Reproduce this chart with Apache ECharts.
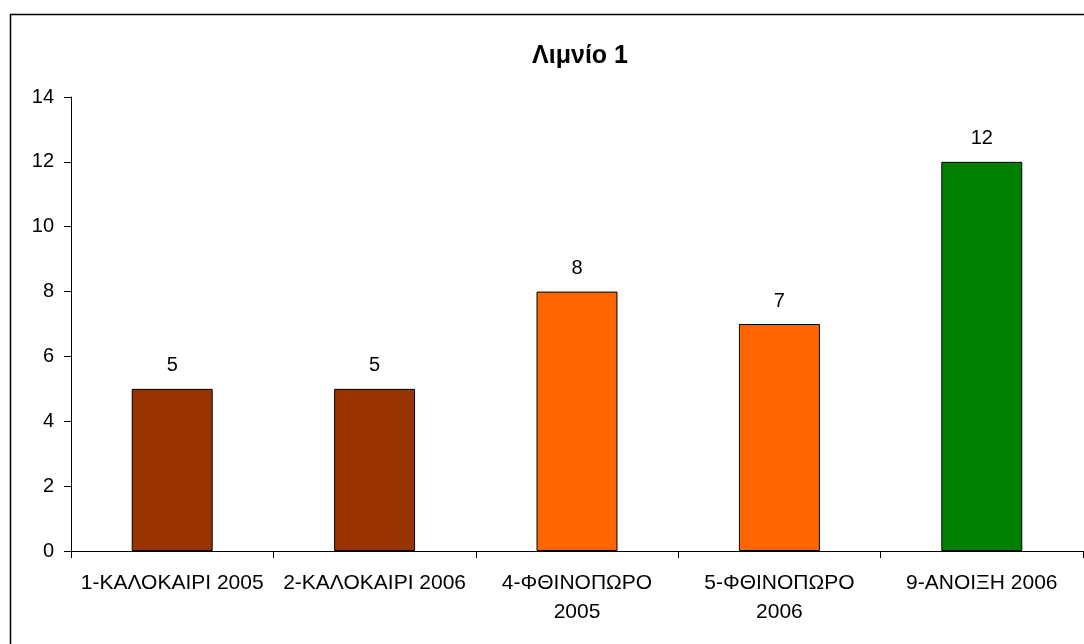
<!DOCTYPE html>
<html>
<head>
<meta charset="utf-8">
<script src="https://cdn.jsdelivr.net/npm/echarts@6/dist/echarts.min.js"></script>
<style>
html,body{margin:0;padding:0;background:#fff;}
#chart{width:1084px;height:644px;}
</style>
</head>
<body>
<div id="chart"></div>
<script>
var titleText = 'Λιμνίο 1';
var categories = ['1-ΚΑΛΟΚΑΙΡΙ 2005', '2-ΚΑΛΟΚΑΙΡΙ 2006', '4-ΦΘΙΝΟΠΩΡΟ\n2005', '5-ΦΘΙΝΟΠΩΡΟ\n2006', '9-ΑΝΟΙΞΗ 2006'];
var values = [5, 5, 8, 7, 12];
var barColors = ['#993300', '#993300', '#FF6600', '#FF6600', '#008000'];
var yTicks = [0, 2, 4, 6, 8, 10, 12, 14];

var chart = echarts.init(document.getElementById('chart'));
var font = '"Liberation Sans", Arial, sans-serif';
chart.setOption({
  animation: false,
  backgroundColor: '#fff',
  graphic: [{
    type: 'rect',
    shape: {x: 10.5, y: 14.5, width: 1200, height: 800},
    style: {fill: 'none', stroke: '#000', lineWidth: 1.5},
    silent: true
  }],
  title: {
    text: titleText,
    left: 575, top: 39, textAlign: 'center',
    textStyle: {fontFamily: font, fontSize: 25, fontWeight: 'bold', color: '#000'}
  },
  grid: {left: 71, right: 1, top: 97, bottom: 93, containLabel: false},
  xAxis: {
    type: 'category',
    data: categories,
    axisLine: {lineStyle: {color: '#000', width: 1}},
    axisTick: {show: true, length: 7, lineStyle: {color: '#000'}},
    axisLabel: {
      interval: 0, margin: 18, color: '#000', fontFamily: font, fontSize: 21, lineHeight: 29
    },
    splitLine: {show: false}
  },
  yAxis: {
    type: 'value',
    min: yTicks[0], max: yTicks[yTicks.length - 1], interval: 2,
    axisLine: {show: true, lineStyle: {color: '#000', width: 1}},
    axisTick: {show: true, length: 7, lineStyle: {color: '#000'}},
    axisLabel: {margin: 17, color: '#000', fontFamily: font, fontSize: 20},
    splitLine: {show: false}
  },
  series: [{
    type: 'bar',
    data: values.map(function (v, i) {
      return {value: v, itemStyle: {color: barColors[i]}};
    }),
    barWidth: '40%',
    itemStyle: {borderColor: '#000', borderWidth: 1},
    label: {
      show: true, position: 'top', distance: 13,
      color: '#000', fontFamily: font, fontSize: 20
    }
  }]
});
</script>
</body>
</html>
